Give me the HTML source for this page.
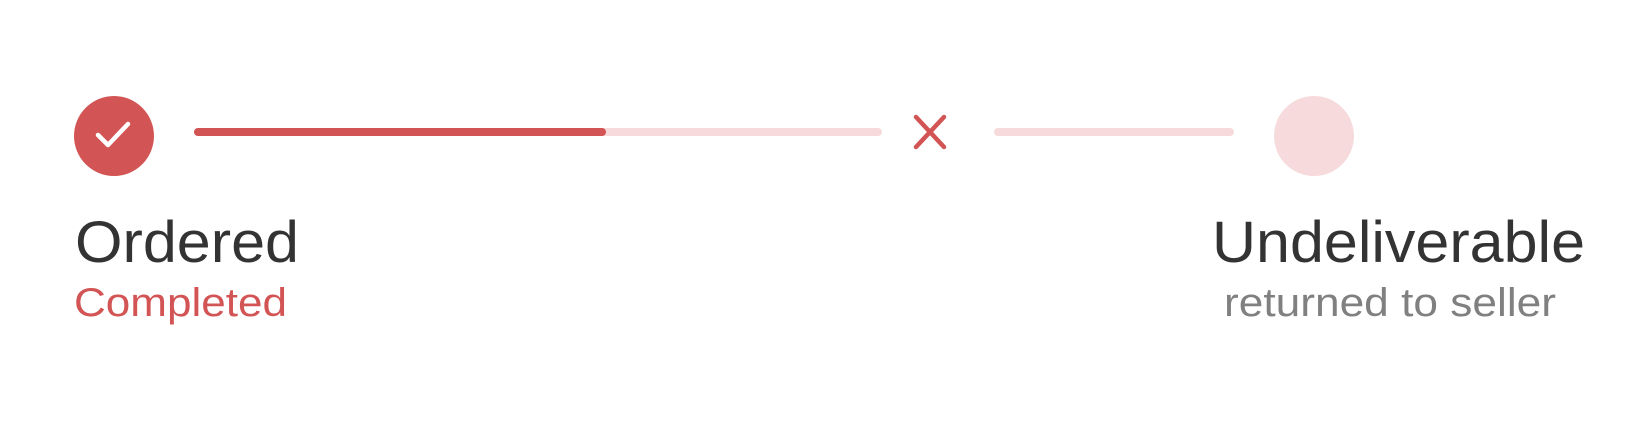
<!DOCTYPE html>
<html><head><meta charset="utf-8"><style>
html,body{margin:0;padding:0;background:#fff;width:1637px;height:424px;overflow:hidden}
text{font-family:"Liberation Sans",sans-serif}
</style></head><body>
<svg width="1637" height="424" viewBox="0 0 1637 424">
  <g>
    <circle cx="114" cy="136" r="40" fill="#d35454"/>
    <path d="M98 135 L108 145 L128 124" fill="none" stroke="#fff" stroke-width="4.5" stroke-linecap="round" stroke-linejoin="round"/>
    <text x="75" y="262" font-size="58" fill="#333" textLength="224" lengthAdjust="spacingAndGlyphs">Ordered</text>
    <text x="74" y="316" font-size="40" fill="#d35454" textLength="213" lengthAdjust="spacingAndGlyphs">Completed</text>
  </g>
  <line x1="198" y1="132" x2="878" y2="132" stroke="#f7dadb" stroke-width="8" stroke-linecap="round"/>
  <line x1="198" y1="132" x2="602" y2="132" stroke="#d35454" stroke-width="8" stroke-linecap="round"/>
  <g stroke="#d35454" stroke-width="4.5" stroke-linecap="round">
    <line x1="916" y1="117" x2="944" y2="147"/>
    <line x1="944" y1="117" x2="916" y2="147"/>
  </g>
  <line x1="998" y1="132" x2="1230" y2="132" stroke="#f7dadb" stroke-width="8" stroke-linecap="round"/>
  <g>
    <circle cx="1314" cy="136" r="40" fill="#f7dadb"/>
    <text x="1212" y="262" font-size="58" fill="#333" textLength="373" lengthAdjust="spacingAndGlyphs">Undeliverable</text>
    <text x="1224" y="316" font-size="40" fill="#808080" textLength="332" lengthAdjust="spacingAndGlyphs">returned to seller</text>
  </g>
</svg>
</body></html>
